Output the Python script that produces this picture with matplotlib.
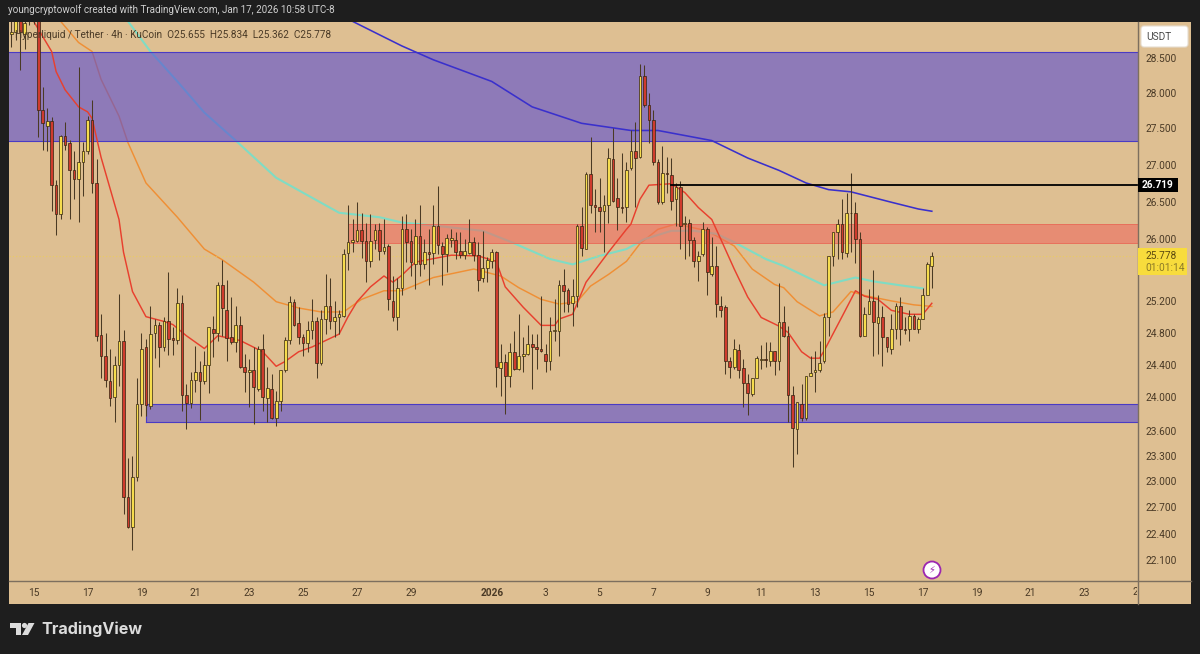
import matplotlib
matplotlib.use("Agg")
import matplotlib.pyplot as plt
import numpy as np
from matplotlib.patches import Rectangle, Polygon, Circle, FancyBboxPatch
from matplotlib.transforms import IdentityTransform, Bbox
from matplotlib.ticker import NullLocator

# 4h candles, the first one sits five bars before Dec 15 00:00
first_bar = -5
opens = [28.84, 28.88, 29.09, 28.84, 29.20, 29.28, 29.14, 27.75, 27.53, 27.60,
         26.72, 26.33, 27.40, 27.29, 26.92, 26.81, 27.04, 27.19, 27.62, 26.75,
         24.77, 24.51, 24.20, 24.00, 24.40, 24.69, 22.82, 22.48, 23.05, 23.92,
         24.62, 23.90, 24.79, 24.89, 24.62, 24.94, 24.73, 24.71, 25.17, 24.03,
         23.93, 24.21, 24.31, 24.20, 24.39, 24.85, 24.79, 25.41, 25.09, 24.74,
         24.68, 24.90, 24.37, 24.31, 24.34, 24.10, 24.60, 23.99, 24.10, 23.75,
         23.96, 24.33, 24.71, 25.19, 24.92, 24.74, 24.67, 24.83, 24.94, 24.42,
         24.97, 25.13, 24.95, 25.00, 25.01, 25.82, 25.96, 25.97, 26.12, 25.97,
         25.71, 25.99, 26.12, 25.84, 25.91, 25.20, 25.00, 25.37, 26.13, 25.97,
         25.67, 26.04, 25.67, 25.83, 25.82, 26.17, 25.91, 25.80, 25.99, 25.99,
         25.84, 25.79, 25.82, 25.96, 25.79, 25.49, 25.62, 25.71, 25.83, 24.36,
         24.43, 24.26, 24.56, 24.35, 24.51, 24.53, 24.66, 24.62, 24.59, 24.53,
         24.44, 24.82, 24.82, 25.41, 25.34, 25.17, 25.26, 26.17, 25.87, 26.87,
         26.46, 26.42, 26.37, 26.45, 27.08, 26.55, 26.42, 26.42, 26.95, 27.19,
         27.11, 28.24, 27.82, 27.62, 27.04, 26.49, 26.89, 26.86, 26.53, 26.70,
         26.20, 26.22, 25.99, 25.71, 25.80, 26.13, 25.55, 25.65, 25.14, 25.12,
         24.44, 24.37, 24.58, 24.36, 24.17, 24.04, 24.24, 24.46, 24.47, 24.44,
         24.57, 24.44, 24.93, 24.76, 24.03, 23.62, 23.92, 23.75, 24.26, 24.31,
         24.33, 24.44, 24.99, 25.78, 26.09, 26.20, 25.82, 26.34, 26.35, 26.00,
         24.76, 25.04, 25.20, 24.92, 24.99, 24.74, 24.60, 24.85, 25.13, 24.84,
         24.84, 25.01, 24.84, 24.97, 25.28, 25.655]
highs = [29.06, 29.20, 29.14, 29.06, 29.28, 29.35, 29.20, 28.08, 27.79, 27.66,
         26.79, 27.41, 27.59, 27.34, 27.18, 28.36, 27.31, 27.67, 27.90, 27.07,
         25.03, 24.80, 24.59, 24.51, 25.29, 24.83, 23.27, 23.30, 24.24, 24.80,
         24.72, 25.14, 24.97, 24.93, 24.99, 25.57, 24.87, 25.37, 25.28, 24.16,
         24.31, 24.63, 24.44, 24.57, 24.87, 25.01, 25.44, 25.73, 25.47, 25.25,
         25.13, 25.01, 24.53, 24.47, 24.62, 24.63, 24.78, 24.37, 24.29, 24.08,
         24.33, 24.74, 25.26, 25.22, 25.12, 24.78, 24.94, 25.23, 25.00, 25.09,
         25.54, 25.50, 25.20, 25.09, 25.87, 26.45, 26.26, 26.49, 26.35, 26.22,
         26.33, 26.20, 26.22, 26.26, 25.94, 25.52, 25.50, 26.30, 26.33, 26.13,
         26.26, 26.45, 26.00, 26.13, 26.46, 26.71, 25.96, 26.07, 26.13, 26.09,
         26.09, 26.00, 26.26, 26.03, 25.96, 26.11, 25.77, 25.87, 25.84, 24.66,
         24.53, 24.67, 24.82, 25.04, 24.74, 24.90, 24.78, 24.78, 25.26, 24.66,
         24.99, 25.22, 25.47, 25.61, 25.37, 25.48, 26.20, 26.42, 26.90, 27.38,
         26.67, 26.82, 26.59, 27.23, 27.51, 26.82, 27.16, 27.03, 27.48, 27.59,
         28.41, 28.40, 28.00, 27.76, 27.07, 27.26, 27.11, 27.09, 26.75, 26.77,
         26.30, 26.26, 26.03, 25.84, 26.23, 26.16, 26.03, 25.91, 25.26, 25.15,
         24.49, 24.72, 24.66, 24.47, 24.28, 24.24, 24.51, 24.64, 24.68, 24.68,
         24.57, 25.43, 25.13, 24.88, 24.14, 23.94, 24.16, 24.26, 24.51, 24.57,
         24.70, 25.05, 25.78, 26.10, 26.26, 26.53, 26.61, 26.89, 26.49, 26.10,
         25.12, 25.35, 25.60, 25.28, 25.13, 24.74, 25.04, 25.17, 25.25, 25.00,
         25.09, 25.04, 25.00, 25.37, 25.70, 25.834]
lows = [28.66, 28.76, 28.33, 28.63, 28.97, 28.99, 27.38, 27.20, 27.18, 26.37,
        26.06, 26.26, 27.20, 26.26, 26.53, 26.23, 26.57, 27.14, 26.62, 24.70,
        24.23, 24.13, 23.90, 23.70, 24.14, 22.62, 22.46, 22.22, 23.01, 23.77,
        23.77, 23.86, 24.48, 24.37, 24.57, 24.52, 24.52, 24.66, 23.84, 23.62,
        23.87, 24.07, 23.73, 24.16, 24.05, 24.49, 24.70, 24.76, 24.44, 24.66,
        24.56, 24.36, 24.07, 23.88, 23.68, 24.08, 23.84, 23.70, 23.74, 23.65,
        23.84, 24.31, 24.66, 24.88, 24.66, 24.51, 24.56, 24.72, 24.23, 24.40,
        24.78, 24.84, 24.74, 24.78, 25.00, 25.60, 25.83, 25.96, 25.75, 25.44,
        25.63, 25.87, 25.73, 25.80, 25.08, 24.94, 24.83, 25.28, 25.70, 25.52,
        25.35, 25.52, 25.61, 25.41, 25.67, 25.80, 25.41, 25.57, 25.90, 25.74,
        25.75, 25.74, 25.80, 25.71, 25.33, 25.44, 25.44, 25.62, 24.13, 24.02,
        23.80, 24.13, 24.34, 24.34, 24.31, 24.52, 24.10, 24.35, 24.56, 24.31,
        24.34, 24.70, 24.51, 25.06, 25.06, 24.88, 25.12, 25.78, 25.87, 26.35,
        26.09, 26.09, 25.83, 26.22, 26.50, 26.12, 26.34, 26.23, 26.93, 26.43,
        27.09, 27.80, 27.30, 27.00, 26.47, 26.47, 26.62, 26.39, 26.17, 25.87,
        25.74, 25.78, 25.63, 25.45, 25.78, 25.28, 25.52, 25.00, 24.99, 24.29,
        24.23, 24.35, 24.24, 23.88, 23.79, 24.02, 24.23, 24.35, 24.37, 24.38,
        24.27, 24.33, 24.74, 23.70, 23.17, 23.32, 23.72, 23.73, 24.26, 24.07,
        24.31, 24.42, 24.76, 25.65, 25.74, 25.74, 25.77, 25.83, 25.69, 24.74,
        24.76, 25.04, 24.51, 24.53, 24.38, 24.56, 24.53, 24.72, 24.64, 24.78,
        24.70, 24.84, 24.79, 24.97, 25.39, 25.362]
closes = [28.87, 29.09, 28.87, 29.00, 29.03, 29.09, 27.75, 27.57, 27.60, 26.72,
          26.33, 27.40, 27.27, 26.92, 26.81, 27.03, 27.18, 27.62, 26.75, 24.76,
          24.51, 24.21, 23.99, 24.40, 24.69, 22.82, 22.48, 23.05, 23.92, 24.60,
          23.91, 24.78, 24.89, 24.62, 24.94, 24.72, 24.71, 25.17, 24.03, 23.93,
          24.21, 24.31, 24.20, 24.39, 24.87, 24.79, 25.41, 25.11, 24.73, 24.68,
          24.89, 24.37, 24.31, 24.33, 24.12, 24.60, 24.00, 24.11, 23.75, 23.96,
          24.33, 24.71, 25.19, 24.89, 24.74, 24.67, 24.83, 24.94, 24.42, 24.97,
          25.13, 24.94, 25.00, 25.03, 25.80, 25.96, 25.99, 26.12, 25.97, 25.71,
          25.97, 26.12, 25.84, 25.90, 25.22, 25.00, 25.37, 26.13, 25.96, 25.70,
          26.04, 25.67, 25.83, 25.80, 26.17, 25.92, 25.80, 26.01, 26.01, 25.83,
          25.79, 25.84, 25.96, 25.79, 25.47, 25.62, 25.73, 25.83, 24.37, 24.43,
          24.26, 24.56, 24.35, 24.51, 24.53, 24.66, 24.62, 24.59, 24.57, 24.44,
          24.82, 24.83, 25.41, 25.33, 25.16, 25.26, 26.17, 25.88, 26.87, 26.45,
          26.43, 26.37, 26.45, 27.09, 26.51, 26.42, 26.41, 26.93, 27.18, 27.09,
          28.24, 27.82, 27.62, 27.04, 26.49, 26.89, 26.87, 26.51, 26.70, 26.18,
          26.22, 25.99, 25.71, 25.78, 26.13, 25.57, 25.65, 25.16, 25.09, 24.44,
          24.37, 24.60, 24.34, 24.17, 24.05, 24.24, 24.48, 24.47, 24.46, 24.57,
          24.44, 24.93, 24.76, 24.03, 23.63, 23.94, 23.75, 24.26, 24.30, 24.34,
          24.42, 24.99, 25.78, 26.10, 26.20, 25.83, 26.34, 26.35, 26.00, 24.76,
          25.04, 25.20, 24.93, 25.00, 24.74, 24.62, 24.85, 25.13, 24.85, 24.83,
          25.01, 24.84, 24.97, 25.28, 25.67, 25.778]

# moving averages, read at the bar where the line bends
red_bars = [0, 4, 5, 7, 10, 12, 13, 15, 19, 20, 22, 25, 29, 31, 34, 38, 41, 46, 51, 54, 56, 59, 62, 68, 70, 72,
            75, 78, 80, 82, 85, 93, 99, 103, 105, 109, 113, 116, 117, 120, 123, 128, 132, 133, 135, 137, 142, 145,
            148, 151, 153, 156, 159, 162, 166, 168, 171, 173, 175, 176, 180, 183, 185, 188, 191, 195, 198, 200]
red_ma = [29.03, 28.59, 28.30, 28.04, 27.80, 27.73, 27.64, 27.10, 26.26, 25.83, 25.32, 25.00, 24.94, 24.90, 24.76,
          24.60, 24.76, 24.70, 24.56, 24.38, 24.44, 24.56, 24.62, 24.78, 25.00, 25.19, 25.38, 25.52, 25.44, 25.53,
          25.70, 25.79, 25.78, 25.71, 25.38, 25.12, 24.89, 24.89, 24.97, 25.03, 25.44, 25.83, 26.13, 26.20, 26.53,
          26.72, 26.74, 26.62, 26.42, 26.26, 26.00, 25.61, 25.25, 24.99, 24.88, 24.80, 24.56, 24.48, 24.48, 24.57,
          25.00, 25.33, 25.26, 25.22, 25.08, 25.03, 25.03, 25.17]
orange_bars = [6, 10, 13, 15, 19, 21, 25, 32, 38, 42, 49, 54, 59, 64, 69, 73, 78, 82, 89, 98, 104, 108, 113, 117,
               121, 124, 128, 132, 135, 139, 143, 150, 156, 160, 165, 167, 170, 175, 178, 182, 185, 191, 196, 200]
orange_ma = [29.03, 28.72, 28.59, 28.19, 27.67, 27.30, 26.75, 26.29, 25.87, 25.73, 25.44, 25.19, 25.11, 25.06, 25.06,
             25.22, 25.33, 25.33, 25.50, 25.61, 25.52, 25.37, 25.22, 25.16, 25.19, 25.39, 25.54, 25.71, 25.94, 26.13,
             26.20, 26.11, 25.91, 25.61, 25.41, 25.37, 25.19, 25.01, 25.06, 25.32, 25.27, 25.20, 25.15, 25.13]
teal_bars = [21, 26, 32, 38, 45, 54, 68, 77, 82, 89, 100, 106, 115, 120, 126, 132, 136, 142, 147, 152, 156, 163, 167,
             176, 183, 187, 193, 198]
teal_ma = [29.03, 28.59, 28.16, 27.72, 27.33, 26.82, 26.35, 26.29, 26.22, 26.18, 26.11, 25.97, 25.74, 25.67, 25.78,
           25.87, 26.00, 26.11, 26.11, 26.07, 25.96, 25.74, 25.65, 25.40, 25.50, 25.45, 25.40, 25.36]
blue_bars = [71, 78, 82, 89, 102, 111, 122, 133, 139, 151, 159, 166, 172, 177, 182, 191, 197, 200]
blue_ma = [29.03, 28.80, 28.67, 28.47, 28.16, 27.80, 27.57, 27.47, 27.47, 27.33, 27.09, 26.92, 26.75, 26.66, 26.63,
           26.49, 26.40, 26.37]

# zones and levels
upper_zone = (27.33, 28.59)
mid_zone = (25.95, 26.20)
mid_zone_start = 70
lower_zone = (23.70, 23.92)
lower_zone_start = 25
resistance = 26.719
resistance_start = 142
last_price = 25.778

price_ticks = [28.5, 28.0, 27.5, 27.0, 26.5, 26.0, 25.2, 24.8, 24.4, 24.0, 23.6, 23.3, 23.0, 22.7, 22.4, 22.1]
date_bars = [0, 12, 24, 36, 48, 60, 72, 84, 102, 114, 126, 138, 150, 162, 174, 186, 198, 210, 222, 234]
date_labels = ['15', '17', '19', '21', '23', '25', '27', '29', '2026', '3', '5', '7', '9', '11', '13', '15', '17', '19',
               '21', '23']
clipped_bar = 246
clipped_label = '25'

W, H = 1200, 654
X_END = 245.8
DARK = '#1e1e1e'
TAN = '#debf92'
INK = '#4a3a26'
ZONE_BLUE = '#5a4cd2'
FS = 7.3
plt.rcParams['font.family'] = ['Roboto', 'DejaVu Sans']

fig = plt.figure(figsize=(W / 100, H / 100), dpi=100, facecolor=DARK)
ax = fig.add_axes([8.5 / W, 1 - 581 / H, 1129 / W, 559 / H], facecolor=TAN)
ax.set_yscale('log')
ax.set_xlim(-5.61, X_END)
ax.set_ylim(21.87, 29.02)

# tan frame under the axes, includes the price and time strips
fig.add_artist(Rectangle((8.5 / W, 1 - 604 / H), 1182.5 / W, 582 / H, transform=fig.transFigure,
                         facecolor=TAN, edgecolor='none', zorder=-1))
fig.add_artist(plt.Line2D([8.5 / W, 1191 / W], [1 - 581 / H] * 2, color='#7d6f5e', lw=1, transform=fig.transFigure))
fig.add_artist(plt.Line2D([1137.5 / W] * 2, [1 - 22 / H, 1 - 604 / H], color='#7d6f5e', lw=1,
                          transform=fig.transFigure))

# orange and teal sit under the zones, red and blue stay on top of them
ma_styles = [(orange_bars, orange_ma, '#ef8f35', 1.05, 2), (teal_bars, teal_ma, '#7fdcc4', 1.5, 2),
             (red_bars, red_ma, '#e8402e', 1.05, 3.5), (blue_bars, blue_ma, '#3a30cc', 1.15, 3.5)]
for bars, vals, col, lw, z in ma_styles:
    ax.plot(bars, vals, color=col, lw=lw, zorder=z, solid_joinstyle='round')

ax.axhspan(*upper_zone, facecolor=ZONE_BLUE, alpha=0.6, edgecolor='none', zorder=3)
ax.fill_between([mid_zone_start, X_END], mid_zone[0], mid_zone[1], facecolor='#ee6a5f', alpha=0.6,
                edgecolor='none', zorder=3)
ax.fill_between([lower_zone_start, X_END], lower_zone[0], lower_zone[1], facecolor=ZONE_BLUE, alpha=0.6,
                edgecolor='none', zorder=3)
for level in upper_zone:
    ax.axhline(level, color='#4a3bc4', lw=0.8, zorder=3)
for level in mid_zone:
    ax.plot([mid_zone_start, X_END], [level, level], color='#e8705c', lw=0.7, zorder=3)
ax.plot([mid_zone_start, mid_zone_start], mid_zone, color='#e8705c', lw=0.7, zorder=3)
for level in lower_zone:
    ax.plot([lower_zone_start, X_END], [level, level], color='#4a3bc4', lw=0.8, zorder=3)
ax.plot([lower_zone_start, lower_zone_start], lower_zone, color='#4a3bc4', lw=0.8, zorder=3)

ax.axhline(last_price, color='#f2d24a', lw=0.8, ls=(0, (1, 2)), alpha=0.7, zorder=3)
ax.plot([resistance_start, X_END], [resistance, resistance], color='black', lw=1.3, zorder=5)

x = np.arange(first_bar, first_bar + len(opens))
o, h, l, c = map(np.array, (opens, highs, lows, closes))
up = c >= o
ax.vlines(x, l, h, color='#4a3a24', lw=0.75, zorder=4)
ax.bar(x[up], (c - o)[up], bottom=o[up], width=0.6, facecolor='#f6dc4e', edgecolor='#33240f', lw=0.5, zorder=4.5)
ax.bar(x[~up], (o - c)[~up], bottom=c[~up], width=0.6, facecolor='#cf3b2d', edgecolor='#33240f', lw=0.5, zorder=4.5)

ax.set_yticks(price_ticks, labels=[f'{t:.3f}' for t in price_ticks])
ax.yaxis.set_minor_locator(NullLocator())
ax.yaxis.tick_right()
ax.tick_params(axis='y', length=0, pad=5.5, labelsize=FS, labelcolor=INK)
ax.set_xticks(date_bars, labels=date_labels)
ax.tick_params(axis='x', length=0, pad=5, labelsize=FS, labelcolor=INK)
for lab in ax.get_xticklabels():
    if lab.get_text() == '2026':
        lab.set_fontweight('bold')
for spine in ax.spines.values():
    spine.set_visible(False)

# the last date label runs into the price strip and gets cut
cut = ax.text(clipped_bar, -11 / 559, clipped_label, transform=ax.get_xaxis_transform(), fontsize=FS, color=INK,
              ha='center', va='center', clip_on=True)
cut.set_clip_box(Bbox.from_extents(0, 0, 1137, H))


def put(px, py, s, **kw):
    return fig.text(px / W, 1 - py / H, s, **kw)


put(8, 9.5, 'youngcryptowolf created with TradingView.com, Jan 17, 2026 10:58 UTC-8', color='#cfcfcf', fontsize=7.1,
    va='center')
put(15, 35, 'Hyperliquid / Tether · 4h · KuCoin  O25.655  H25.834  L25.362  C25.778', color=INK, fontsize=7.2,
    va='center', zorder=6)

# USDT button
fig.add_artist(FancyBboxPatch((1141, H - 47), 47, 21, boxstyle='round,pad=0,rounding_size=3', facecolor='white',
                              edgecolor='#e6ddd0', lw=0.8, transform=IdentityTransform(), zorder=5))
put(1159, 36.5, 'USDT', color='#4a4a4a', fontsize=FS, ha='center', va='center', zorder=6)

# price labels
fig.add_artist(Rectangle((1138, H - 192), 40, 14, facecolor='black', edgecolor='none',
                         transform=IdentityTransform(), zorder=5))
put(1158, 185, '26.719', color='white', fontsize=FS, fontweight='bold', ha='center', va='center', zorder=6)
fig.add_artist(Rectangle((1138, H - 275), 49, 27, facecolor='#f8dc3c', edgecolor='none',
                         transform=IdentityTransform(), zorder=5))
put(1145, 256, '25.778', color='#5c4a10', fontsize=FS, va='center', zorder=6)
put(1145, 268, '01:01:14', color='#8c7a28', fontsize=FS, va='center', zorder=6)

# lightning badge near the last candle
fig.add_artist(Circle((932, H - 570), 8.5, facecolor='white', edgecolor='#9c27b0', lw=1.3,
                      transform=IdentityTransform(), zorder=5))
put(932, 570, '\u26a1', color='#9c27b0', fontsize=7, ha='center', va='center', family='DejaVu Sans', zorder=6)

# TradingView mark at the bottom
logo_t = [(10, 623), (21, 623), (21, 635), (15.5, 635), (15.5, 628), (10, 628)]
logo_s = [(28.5, 623), (34.5, 623), (28, 635), (22, 635)]
for shape in (logo_t, logo_s):
    fig.add_artist(Polygon([(a, H - b) for a, b in shape], closed=True, facecolor='#dcdcdc', edgecolor='none',
                           transform=IdentityTransform()))
fig.add_artist(Circle((24.5, H - 625.5), 2.6, facecolor='#dcdcdc', edgecolor='none', transform=IdentityTransform()))
put(41, 629.5, 'TradingView', color='#dcdcdc', fontsize=11.6, family='Inter', fontweight='bold', va='center')

fig.savefig('out.png', dpi=100, facecolor=DARK)
